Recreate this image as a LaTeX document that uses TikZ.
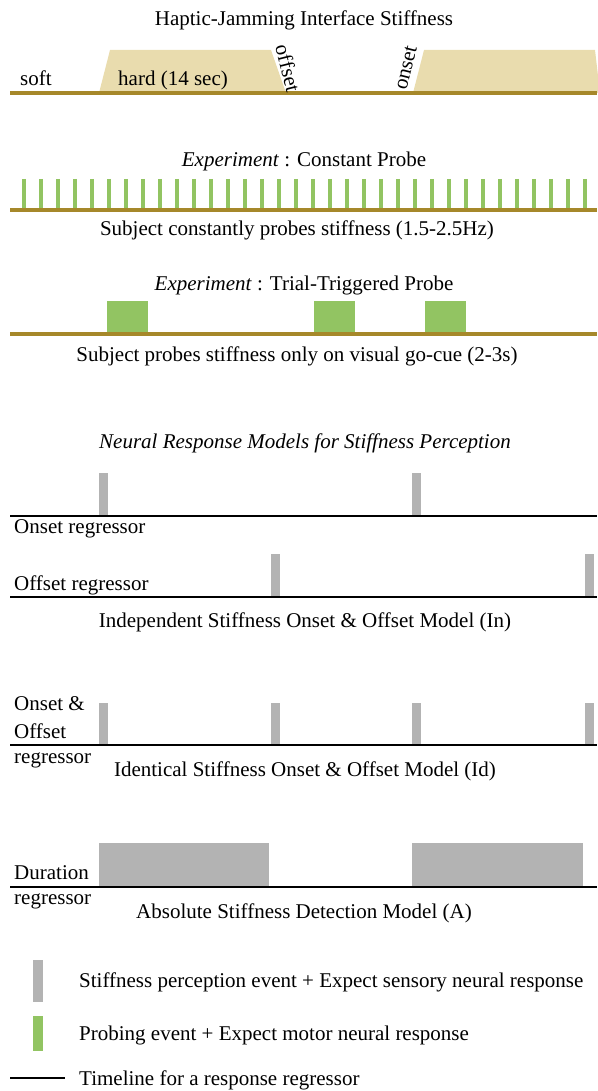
\documentclass[tikz,border=0pt]{standalone}
\usepackage{fontspec}
\setmainfont{Liberation Serif}
\definecolor{stiffline}{RGB}{166,136,42}
\definecolor{hardfill}{RGB}{233,220,174}
\definecolor{probegreen}{RGB}{146,196,98}
\definecolor{eventgray}{RGB}{179,179,179}
\begin{document}
\begin{tikzpicture}[x=1pt,y=-1pt,font=\fontsize{21}{24}\selectfont, line join=round,
	txt/.style={inner sep=0pt,anchor=base},
	lbl/.style={inner sep=0pt,anchor=base west},
	regline/.style={black,line width=2pt},
	stiff/.style={stiffline,line width=3.5pt}]
	\useasboundingbox (0,0) rectangle (597,1091);
	\def\xon{99} \def\xoff{271} \def\xonb{412} \def\xoffb{585}
	% stiffness of the interface
	\node[txt] (title) at (304,26) {Haptic-Jamming Interface Stiffness};
	\fill[hardfill] (99,93)--(110,50)--(271,50)--(286,93)--cycle;
	\fill[hardfill] (413,93)--(424,50)--(595,50)--(600,93)--cycle;
	\draw[stiff] (10,93)--(597,93);
	\node[lbl] (soft) at (20,86) {soft};
	\node[lbl] (hard) at (118,86) {hard (14 sec)};
	\node[inner sep=0pt,rotate=-76] (offset) at (288,68) {offset};
	\node[inner sep=0pt,rotate=76] (onset) at (406,68) {onset};
	% constant probe
	\node[txt] (constant) at (304,167) {\textit{Experiment} : Constant Probe};
	\foreach \i in {0,...,33}
		\draw[probegreen,line width=3.5pt] (24+\i*17,179)--(24+\i*17,209);
	\draw[stiff] (10,210)--(597,210);
	\node[txt] (constsub) at (297,236) {Subject constantly probes stiffness (1.5-2.5Hz)};
	% trial-triggered probe
	\node[txt] (trial) at (304,290) {\textit{Experiment} : Trial-Triggered Probe};
	\foreach \x in {107,314,425}
		\fill[probegreen] (\x,301) rectangle (\x+41,333);
	\draw[stiff] (10,334)--(597,334);
	\node[txt] (trialsub) at (297,361) {Subject probes stiffness only on visual go-cue (2-3s)};
	% response models
	\node[txt] (models) at (305,448) {\textit{Neural Response Models for Stiffness Perception}};
	\foreach \x in {\xon,\xonb}
		\fill[eventgray] (\x,473) rectangle (\x+9,515);
	\draw[regline] (10,516)--(597,516);
	\node[lbl] (onreg) at (14,533) {Onset regressor};
	\foreach \x in {\xoff,\xoffb}
		\fill[eventgray] (\x,554) rectangle (\x+9,596);
	\draw[regline] (10,597)--(597,597);
	\node[lbl] (offreg) at (14,590) {Offset regressor};
	\node[txt] (modelin) at (305,627) {Independent Stiffness Onset \& Offset Model (In)};
	\foreach \x in {\xon,\xoff,\xonb,\xoffb}
		\fill[eventgray] (\x,703) rectangle (\x+9,744);
	\draw[regline] (10,745)--(597,745);
	\node[lbl] (bothreg) at (14,710) {Onset \&};
	\node[lbl] (bothregb) at (14,738) {Offset};
	\node[lbl] (bothregc) at (14,763) {regressor};
	\node[txt] (modelid) at (305,776) {Identical Stiffness Onset \& Offset Model (Id)};
	\fill[eventgray] (\xon,843) rectangle (269,886);
	\fill[eventgray] (\xonb,843) rectangle (583,886);
	\draw[regline] (10,887)--(597,887);
	\node[lbl] (durreg) at (14,879) {Duration};
	\node[lbl] (durregb) at (14,904) {regressor};
	\node[txt] (modela) at (304,918) {Absolute Stiffness Detection Model (A)};
	% legend
	\fill[eventgray] (33,960) rectangle (43,1002);
	\node[lbl] (legsens) at (79,987) {Stiffness perception event + Expect sensory neural response};
	\fill[probegreen] (33,1016) rectangle (43,1051);
	\node[lbl] (legmotor) at (79,1040) {Probing event + Expect motor neural response};
	\draw[regline] (10,1078)--(65,1078);
	\node[lbl] (legline) at (79,1085) {Timeline for a response regressor};
\end{tikzpicture}
\end{document}
